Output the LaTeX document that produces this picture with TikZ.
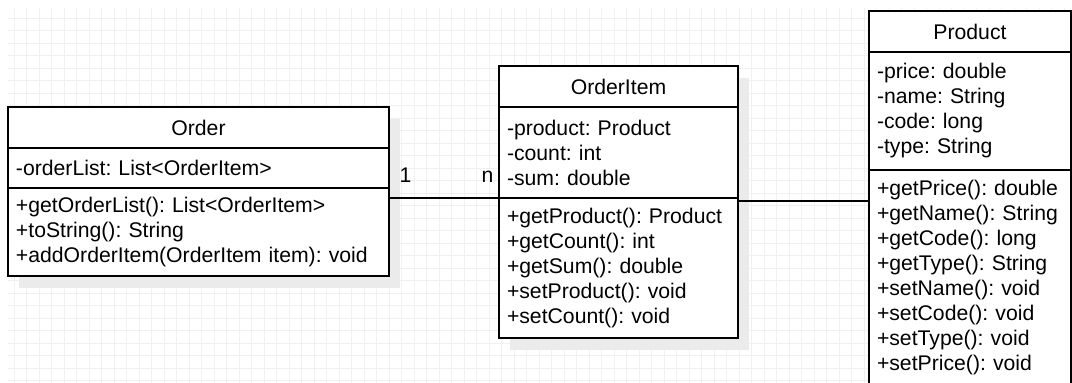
\documentclass[tikz,border=0pt]{standalone}
\usepackage{fontspec}
\newfontfamily\umlfont{Liberation Sans}
\usetikzlibrary{positioning,shadows}
\frenchspacing
\tikzset{class head/.style={draw,fill=white,line width=0.7pt,text width=#1,align=center,
		minimum height=20.5pt,inner xsep=4pt,inner ysep=0pt,outer sep=0pt,
		font=\umlfont\fontsize{10.6}{12.5}\selectfont,
		drop shadow={shadow xshift=5.5pt,shadow yshift=-6pt,fill=black!8,opacity=1}},
	class part/.style={class head=#1,align=left},
}

\begin{document}
\begin{tikzpicture}[x=0.5pt,y=-0.5pt,
		grid line/.style={black!6,line width=0.5pt},
		assoc/.style={line width=0.65pt},
		mult/.style={inner sep=0pt,font=\umlfont\fontsize{10.6}{12.5}\selectfont}]
		
		\useasboundingbox (0,0) rectangle (1072,383);
		\foreach \gx in {14,26.5,...,1071} \draw[grid line] (\gx,8) -- (\gx,383);
		\foreach \gy in {18.5,31,...,383} \draw[grid line] (8,\gy) -- (1072,\gy);
		
		\node[class head=182.5pt, anchor=north west] (order) at (8,107) {Order};
		\node[class part=182.5pt, minimum height=20pt, below=0pt of order] (orderattr) {-orderList: List<OrderItem>};
		\node[class part=182.5pt, minimum height=44pt, below=0pt of orderattr] (ordermeth)
		{+getOrderList(): List<OrderItem>\\+toString(): String\\+addOrderItem(OrderItem item): void};
		
		\node[class head=111.5pt, anchor=north west] (item) at (499,66) {OrderItem};
		\node[class part=111.5pt, minimum height=45.5pt, below=0pt of item] (itemattr)
		{-product: Product\\-count: int\\-sum: double};
		\node[class part=111.5pt, minimum height=70pt, below=0pt of itemattr] (itemmeth)
		{+getProduct(): Product\\+getCount(): int\\+getSum(): double\\+setProduct(): void\\+setCount(): void};
		
		\node[class head=93pt, anchor=north west] (product) at (869,11) {Product};
		\node[class part=93pt, minimum height=59pt, below=0pt of product] (prodattr)
		{-price: double\\-name: String\\-code: long\\-type: String};
		\node[class part=93pt, minimum height=107.5pt, below=0pt of prodattr] (prodmeth)
		{+getPrice(): double\\+getName(): String\\+getCode(): long\\+getType(): String\\+setName(): void\\+setCode(): void\\+setType(): void\\+setPrice(): void};
		
		\draw[assoc] (ordermeth.east |- itemmeth.north west) --
		node[mult, pos=0, anchor=base west, xshift=5pt, yshift=7.5pt] {1}
		node[mult, pos=1, anchor=base east, xshift=-2.5pt, yshift=7.5pt] {n}
		(itemmeth.north west);
		\coordinate[below=1.5pt of itemmeth.north east] (link);
		\draw[assoc] (link) -- (link -| product.west);
\end{tikzpicture}
\end{document}
